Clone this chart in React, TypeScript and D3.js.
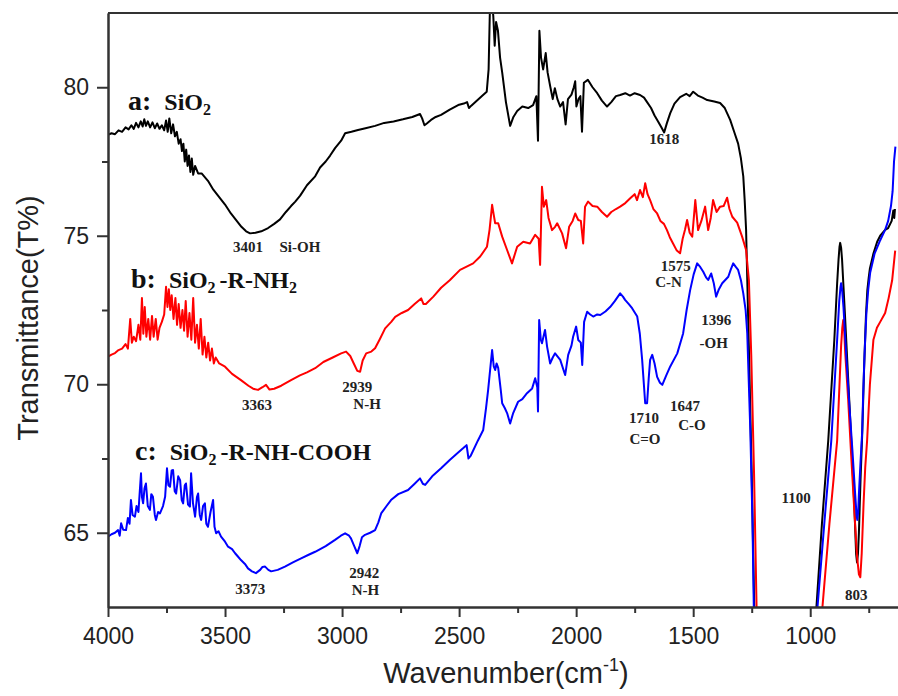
import React, { useEffect, useRef } from 'react';
import * as d3 from 'd3';

// wavenumber (cm-1), transmittance (%)
const curveA: [number, number][] = [
  [4000, 78.4], [3985, 78.45], [3970, 78.42], [3955, 78.55], [3940, 78.5], [3925, 78.65], [3912, 78.58], [3900, 78.72],
  [3890, 78.6], [3880, 78.8], [3870, 78.65], [3860, 78.85], [3852, 78.68], [3845, 78.92], [3838, 78.7], [3830, 78.85],
  [3820, 78.65], [3810, 78.82], [3800, 78.62], [3790, 78.78], [3780, 78.6], [3770, 78.72], [3760, 78.55], [3752, 78.88],
  [3745, 78.5], [3738, 78.95], [3730, 78.45], [3722, 78.75], [3714, 78.35], [3706, 78.5], [3698, 78.1], [3690, 78.25],
  [3684, 77.85], [3678, 78.1], [3672, 77.5], [3666, 77.9], [3660, 77.35], [3654, 77.7], [3648, 77.15], [3642, 77.6],
  [3636, 77.05], [3628, 77.35], [3615, 77.1], [3600, 77.1], [3573, 76.85], [3550, 76.55], [3525, 76.3], [3500, 76.05],
  [3475, 75.75], [3450, 75.5], [3430, 75.3], [3410, 75.15], [3393, 75.08], [3370, 75.1], [3345, 75.15], [3316, 75.26],
  [3290, 75.4], [3265, 75.55], [3240, 75.8], [3218, 76.0], [3200, 76.15], [3179, 76.35], [3150, 76.7], [3115, 77.0],
  [3094, 77.3], [3070, 77.5], [3051, 77.7], [3030, 77.95], [3004, 78.2], [2987, 78.45], [2960, 78.5], [2932, 78.56],
  [2900, 78.62], [2859, 78.7], [2820, 78.8], [2780, 78.85], [2740, 78.92], [2700, 79.0], [2667, 79.1], [2658, 78.95],
  [2648, 78.72], [2638, 78.78], [2620, 78.9], [2600, 79.0], [2577, 79.07], [2540, 79.25], [2504, 79.4], [2480, 79.45],
  [2466, 79.5], [2458, 79.3], [2448, 79.38], [2420, 79.58], [2400, 79.72], [2382, 79.85], [2374, 80.6], [2368, 82.8],
  [2360, 82.9], [2354, 82.4], [2348, 81.4], [2342, 82.2], [2334, 81.9], [2325, 81.0], [2316, 80.5], [2300, 79.5],
  [2282, 78.7], [2268, 79.0], [2252, 79.2], [2230, 79.35], [2205, 79.3], [2184, 79.4], [2170, 79.7], [2163, 78.2],
  [2157, 81.9], [2150, 81.0], [2141, 80.6], [2130, 81.15], [2122, 80.5], [2110, 80.0], [2100, 79.6], [2091, 79.97],
  [2080, 79.6], [2068, 79.35], [2056, 79.5], [2045, 78.75], [2035, 79.6], [2020, 79.75], [2010, 80.0], [2004, 80.2],
  [1999, 79.35], [1990, 79.6], [1982, 79.7], [1975, 78.5], [1967, 80.15], [1950, 80.25], [1930, 80.0], [1910, 79.8],
  [1890, 79.55], [1868, 79.35], [1850, 79.5], [1830, 79.7], [1812, 79.74], [1790, 79.8], [1770, 79.72], [1750, 79.8],
  [1727, 79.74], [1710, 79.65], [1697, 79.5], [1680, 79.3], [1665, 79.05], [1650, 78.85], [1636, 78.65], [1624, 78.48],
  [1612, 78.8], [1598, 79.13], [1580, 79.45], [1556, 79.67], [1530, 79.78], [1515, 79.7], [1500, 79.85], [1480, 79.72],
  [1460, 79.65], [1440, 79.57], [1410, 79.52], [1385, 79.47], [1365, 79.3], [1342, 78.9], [1325, 78.5], [1308, 78.1],
  [1296, 77.6], [1286, 77.0], [1280, 76.2], [1274, 75.2], [1262, 71.2], [1250, 67.0], [1238, 62.0], [1100, 45],
  [976, 62.2], [950, 65.3], [923, 68.1], [897, 71.5], [885, 73.4], [879, 74.2], [875, 74.62], [872, 74.76], [868, 74.6],
  [864, 74.2], [852, 72.4], [838, 70.2], [824, 68.0], [812, 66.0], [804, 64.3], [800, 64.0], [796, 64.3], [792, 65.0],
  [785, 66.8], [778, 68.3], [770, 70.5], [762, 72.3], [756, 73.17], [750, 73.6], [745, 73.9], [730, 74.4], [714, 74.8],
  [701, 75.0], [680, 75.2], [667, 75.26], [652, 75.5], [645, 75.85], [641, 75.6], [638, 75.9],
];

const curveB: [number, number][] = [
  [4000, 70.93], [3985, 71.0], [3970, 71.05], [3955, 71.15], [3940, 71.2], [3925, 71.35], [3915, 71.2], [3905, 72.2],
  [3898, 71.4], [3890, 71.6], [3880, 71.45], [3870, 72.0], [3862, 71.5], [3855, 72.9], [3849, 71.7], [3843, 72.6],
  [3836, 71.6], [3828, 72.2], [3820, 71.5], [3812, 72.3], [3805, 71.6], [3796, 72.2], [3788, 71.5], [3780, 71.9],
  [3770, 72.1], [3760, 72.35], [3752, 73.28], [3746, 72.6], [3740, 73.2], [3734, 72.5], [3728, 73.0], [3720, 72.2],
  [3712, 72.9], [3705, 72.0], [3698, 72.7], [3690, 71.9], [3682, 72.5], [3675, 71.8], [3668, 72.8], [3660, 71.6],
  [3652, 72.4], [3644, 71.5], [3636, 72.9], [3628, 71.4], [3620, 72.0], [3612, 71.2], [3604, 72.2], [3596, 71.0],
  [3588, 71.6], [3580, 70.9], [3572, 71.4], [3564, 70.8], [3556, 71.2], [3548, 70.7], [3540, 70.9], [3525, 70.7],
  [3500, 70.59], [3470, 70.35], [3432, 70.14], [3400, 69.95], [3380, 69.85], [3359, 69.81], [3340, 69.9], [3325, 69.98],
  [3310, 69.82], [3290, 69.85], [3260, 69.95], [3218, 70.14], [3180, 70.3], [3150, 70.4], [3115, 70.54], [3080, 70.75],
  [3040, 70.9], [3004, 71.04], [2983, 71.1], [2965, 70.95], [2950, 70.7], [2935, 70.45], [2923, 70.42], [2912, 70.8],
  [2897, 71.04], [2875, 71.1], [2859, 71.21], [2840, 71.5], [2816, 71.88], [2790, 72.1], [2773, 72.27], [2745, 72.4],
  [2718, 72.5], [2690, 72.7], [2662, 72.89], [2652, 72.7], [2642, 72.7], [2610, 72.95], [2577, 73.25], [2540, 73.5],
  [2496, 73.85], [2470, 73.95], [2440, 74.07], [2410, 74.3], [2381, 74.63], [2370, 75.2], [2359, 76.04], [2352, 75.7],
  [2346, 75.42], [2333, 75.42], [2316, 74.97], [2295, 74.52], [2274, 74.07], [2252, 74.63], [2226, 74.8], [2197, 74.74],
  [2175, 75.03], [2160, 74.9], [2154, 74.02], [2146, 76.65], [2138, 75.98], [2128, 76.2], [2118, 75.6], [2103, 75.19],
  [2090, 75.3], [2081, 75.42], [2060, 75.08], [2043, 74.58], [2030, 75.3], [2015, 75.5], [2004, 75.75], [1991, 75.53],
  [1980, 75.5], [1970, 74.74], [1962, 75.98], [1949, 76.15], [1930, 76.0], [1910, 75.98], [1890, 75.8], [1868, 75.64],
  [1850, 75.8], [1830, 75.9], [1812, 75.98], [1790, 76.1], [1769, 76.26], [1750, 76.4], [1740, 76.2], [1727, 76.54],
  [1715, 76.3], [1705, 76.77], [1695, 76.4], [1684, 76.2], [1670, 75.9], [1654, 75.75], [1640, 75.5], [1625, 75.4],
  [1612, 75.19], [1600, 74.95], [1586, 74.74], [1570, 74.5], [1556, 74.41], [1545, 74.9], [1535, 75.2], [1526, 75.53],
  [1515, 75.1], [1504, 74.97], [1491, 76.2], [1479, 75.19], [1465, 75.5], [1449, 75.98], [1436, 75.19], [1425, 75.6],
  [1415, 76.2], [1400, 75.8], [1385, 75.98], [1370, 76.0], [1355, 76.28], [1345, 75.9], [1333, 75.64], [1312, 75.44],
  [1291, 74.97], [1274, 74.52], [1262, 73.5], [1252, 71.0], [1240, 67.0], [1228, 62.0], [1100, 45], [951, 62.2],
  [918, 65.3], [885, 68.1], [868, 71.3], [863, 71.9], [859, 72.16], [855, 71.8], [850, 71.0], [838, 69.5], [825, 67.6],
  [812, 65.8], [800, 64.2], [792, 63.6], [786, 63.5], [780, 64.3], [772, 66.0], [765, 67.2], [757, 68.1], [745, 70.0],
  [730, 71.5], [715, 71.9], [701, 72.1], [680, 72.4], [665, 72.9], [650, 73.5], [637, 74.5],
];

const curveC: [number, number][] = [
  [4000, 64.87], [3985, 64.95], [3970, 65.0], [3957, 65.09], [3950, 64.9], [3944, 65.32], [3935, 65.1], [3923, 65.09],
  [3915, 65.5], [3908, 65.3], [3902, 66.1], [3895, 65.6], [3885, 65.54], [3878, 65.9], [3870, 65.7], [3865, 66.3],
  [3859, 67.0], [3855, 66.2], [3850, 65.99], [3844, 66.5], [3838, 66.66], [3830, 65.9], [3821, 65.77], [3815, 66.3],
  [3808, 66.21], [3800, 65.6], [3795, 65.43], [3786, 65.7], [3778, 65.65], [3765, 65.9], [3756, 66.21], [3748, 67.17],
  [3742, 66.6], [3735, 66.55], [3728, 67.1], [3722, 67.11], [3715, 66.4], [3709, 66.32], [3700, 66.9], [3692, 66.77],
  [3685, 66.1], [3679, 65.99], [3672, 66.6], [3667, 66.66], [3658, 65.95], [3650, 65.88], [3645, 67.0], [3637, 66.0],
  [3628, 65.54], [3620, 66.2], [3615, 66.32], [3608, 65.6], [3602, 65.43], [3594, 65.9], [3586, 65.99], [3580, 65.3],
  [3573, 65.2], [3562, 65.7], [3551, 66.1], [3545, 65.2], [3538, 64.98], [3528, 65.05], [3517, 64.87], [3500, 64.7],
  [3487, 64.53], [3470, 64.45], [3457, 64.31], [3445, 64.2], [3432, 64.08], [3415, 63.95], [3402, 63.8], [3385, 63.7],
  [3368, 63.64], [3350, 63.75], [3340, 63.85], [3329, 63.86], [3315, 63.75], [3303, 63.7], [3275, 63.75], [3244, 63.86],
  [3210, 64.0], [3175, 64.14], [3145, 64.25], [3115, 64.36], [3070, 64.55], [3030, 64.76], [3005, 64.9], [2987, 64.98],
  [2970, 64.9], [2962, 64.81], [2948, 64.55], [2935, 64.31], [2925, 64.55], [2915, 64.85], [2902, 64.93], [2880, 65.0],
  [2859, 65.09], [2845, 65.35], [2833, 65.65], [2810, 65.9], [2791, 66.1], [2760, 66.3], [2718, 66.44], [2690, 66.65],
  [2667, 66.83], [2655, 66.65], [2645, 66.61], [2615, 66.9], [2577, 67.17], [2540, 67.45], [2504, 67.7], [2482, 67.85],
  [2468, 67.95], [2460, 67.5], [2450, 67.6], [2420, 68.1], [2397, 68.46], [2385, 69.2], [2376, 69.81], [2366, 70.6],
  [2359, 71.15], [2352, 70.6], [2346, 70.48], [2340, 70.7], [2333, 70.55], [2322, 69.8], [2316, 69.36], [2305, 69.2],
  [2295, 69.03], [2282, 68.68], [2269, 69.03], [2248, 69.41], [2230, 69.5], [2210, 69.7], [2188, 69.86], [2175, 70.2],
  [2166, 69.9], [2163, 69.08], [2158, 72.16], [2151, 71.5], [2146, 71.38], [2133, 71.83], [2124, 71.26], [2111, 70.7],
  [2100, 70.9], [2090, 71.04], [2068, 70.82], [2047, 70.31], [2034, 70.99], [2020, 71.3], [2013, 71.6], [2000, 71.94],
  [1991, 71.49], [1980, 71.4], [1974, 70.65], [1966, 72.1], [1953, 72.44], [1940, 72.35], [1927, 72.28], [1910, 72.35],
  [1897, 72.33], [1875, 72.45], [1855, 72.6], [1835, 72.8], [1812, 73.06], [1800, 72.95], [1791, 72.84], [1775, 72.7],
  [1761, 72.56], [1739, 72.28], [1728, 71.7], [1718, 70.82], [1705, 69.36], [1697, 69.36], [1690, 70.2], [1684, 70.82],
  [1675, 70.99], [1665, 70.7], [1654, 70.25], [1642, 70.05], [1632, 69.98], [1615, 70.3], [1598, 70.6], [1568, 71.04],
  [1543, 71.71], [1528, 72.5], [1513, 73.17], [1498, 73.7], [1483, 74.07], [1470, 73.95], [1457, 73.79], [1445, 73.6],
  [1436, 73.51], [1423, 73.73], [1412, 73.4], [1402, 72.95], [1390, 73.2], [1376, 73.4], [1350, 73.62], [1340, 73.85],
  [1329, 74.07], [1318, 73.95], [1308, 73.85], [1296, 73.5], [1286, 73.06], [1276, 72.5], [1269, 71.71], [1256, 68.46],
  [1247, 65.5], [1240, 62.0], [1100, 45], [972, 62.2], [940, 65.3], [910, 68.1], [885, 71.5], [876, 72.8], [871, 73.25],
  [868, 73.4], [864, 73.2], [858, 72.6], [845, 70.8], [832, 69.2], [820, 67.8], [808, 66.3], [802, 65.6], [799, 65.43],
  [795, 65.7], [792, 66.3], [785, 67.4], [778, 68.4], [774, 69.6], [768, 71.0], [760, 72.4], [752, 73.2], [744, 73.75],
  [725, 74.4], [701, 74.85], [680, 75.2], [667, 75.5], [655, 76.0], [648, 76.5], [642, 77.5], [636, 78.0],
];

const waveTicks = [4000, 3500, 3000, 2500, 2000, 1500, 1000];
const waveMinor = [3750, 3250, 2750, 2250, 1750, 1250, 750];
const transTicks = [65, 70, 75, 80];
const transMinor = [67.5, 72.5, 77.5];

// peak labels: anchor wavenumber / transmittance in data units
const peakLabels: { text: string; wn: number; t: number }[] = [
  { text: '3401', wn: 3402, t: 74.45 },
  { text: 'Si-OH', wn: 3180, t: 74.45 },
  { text: '1618', wn: 1624, t: 78.1 },
  { text: '3363', wn: 3363, t: 69.13 },
  { text: '2939', wn: 2935, t: 69.73 },
  { text: 'N-H', wn: 2893, t: 69.16 },
  { text: '3373', wn: 3392, t: 62.93 },
  { text: '2942', wn: 2905, t: 63.47 },
  { text: 'N-H', wn: 2900, t: 62.9 },
  { text: '1575', wn: 1575, t: 73.81 },
  { text: 'C-N', wn: 1605, t: 73.27 },
  { text: '1396', wn: 1401, t: 71.99 },
  { text: '-OH', wn: 1412, t: 71.22 },
  { text: '1710', wn: 1710, t: 68.7 },
  { text: 'C=O', wn: 1706, t: 67.99 },
  { text: '1647', wn: 1535, t: 69.1 },
  { text: 'C-O', wn: 1505, t: 68.46 },
  { text: '1100', wn: 1060, t: 65.99 },
  { text: '803', wn: 803, t: 62.74 },
];

const seriesLabels = [
  { tag: 'a:', pieces: [['SiO', '2']], t: 79.24 },
  { tag: 'b:', pieces: [['SiO', '2'], ['-R-NH', '2']], t: 73.25 },
  { tag: 'c:', pieces: [['SiO', '2'], ['-R-NH-COOH', '']], t: 67.45 },
];

const W = 898;
const H = 696;
const left = 108;
const top = 13;
const bottom = 607;

const x = d3.scaleLinear().domain([4000, 625]).range([left, W]);
const y = d3.scaleLinear().domain([62.5, 82.5]).range([bottom, top]);

const line = d3
  .line<[number, number]>()
  .x(d => x(d[0]))
  .y(d => y(d[1]));

const serif = "'Liberation Serif', 'Times New Roman', serif";
const sans = "'Liberation Sans', Arial, sans-serif";

const App = () => {
  const xRef = useRef<SVGGElement>(null);
  const yRef = useRef<SVGGElement>(null);

  useEffect(() => {
    const gx = d3.select(xRef.current);
    gx.selectAll('*').remove();
    gx.append('g').call(
      d3.axisBottom(x).tickValues(waveMinor).tickSize(6).tickSizeOuter(0).tickFormat(() => '')
    );
    gx.append('g').call(
      d3.axisBottom(x).tickValues(waveTicks).tickSize(10).tickPadding(11).tickSizeOuter(0).tickFormat(d3.format('d'))
    );

    const gy = d3.select(yRef.current);
    gy.selectAll('*').remove();
    gy.append('g').call(
      d3.axisLeft(y).tickValues(transMinor).tickSize(6).tickSizeOuter(0).tickFormat(() => '')
    );
    gy.append('g').call(
      d3.axisLeft(y).tickValues(transTicks).tickSize(11).tickPadding(8).tickSizeOuter(0).tickFormat(d3.format('d'))
    );

    [gx, gy].forEach(g => {
      g.selectAll('path.domain').attr('stroke', '#333').attr('stroke-width', 2);
      g.selectAll('.tick line').attr('stroke', '#333').attr('stroke-width', 2);
      g.selectAll('.tick text').attr('font-size', 23).attr('font-family', sans).attr('fill', '#222');
    });
  }, []);

  return (
    <svg width={W} height={H} style={{ position: 'absolute', left: 0, top: 0, background: '#fff' }}>
      <defs>
        <clipPath id="plot">
          <rect x={left} y={top} width={W - left} height={bottom - top} />
        </clipPath>
      </defs>

      <g clipPath="url(#plot)" fill="none" strokeWidth={2} strokeLinejoin="round">
        <path d={line(curveA) || ''} stroke="#000" />
        <path d={line(curveB) || ''} stroke="#ff0000" />
        <path d={line(curveC) || ''} stroke="#0000ff" />
      </g>

      <line x1={left} x2={W} y1={top} y2={top} stroke="#333" strokeWidth={2} />
      <g ref={xRef} transform={`translate(0,${bottom})`} />
      <g ref={yRef} transform={`translate(${left},0)`} />

      {seriesLabels.map(s => (
        <text key={s.tag} x={left + (s.tag === 'c:' ? 27 : s.tag === 'b:' ? 23 : 20)} y={y(s.t)}
          fontFamily={serif} fontWeight="bold" fill="#111">
          <tspan fontSize={28}>{s.tag}</tspan>
          {s.pieces.map(([main, sub], i) => (
            <React.Fragment key={i}>
              <tspan fontSize={24} dx={i === 0 ? 13 : 4} dy={i === 0 ? 0 : -5}>{main}</tspan>
              {sub && <tspan fontSize={16} dy={5}>{sub}</tspan>}
            </React.Fragment>
          ))}
        </text>
      ))}

      {peakLabels.map((p, i) => (
        <text key={i} x={x(p.wn)} y={y(p.t)} textAnchor="middle" fontFamily={serif}
          fontWeight="bold" fontSize={15} fill="#222">
          {p.text}
        </text>
      ))}

      <text transform={`translate(38,${(top + bottom) / 2 + 8}) rotate(-90)`} textAnchor="middle"
        fontFamily={sans} fontSize={29} fill="#222">
        Transmittance(T%)
      </text>
      <text x={(left + W) / 2 + 3} y={683} textAnchor="middle" fontFamily={sans} fontSize={29} fill="#222">
        Wavenumber(cm<tspan fontSize={18} dy={-12}>-1</tspan><tspan dy={12}>)</tspan>
      </text>
    </svg>
  );
};

export default App;
